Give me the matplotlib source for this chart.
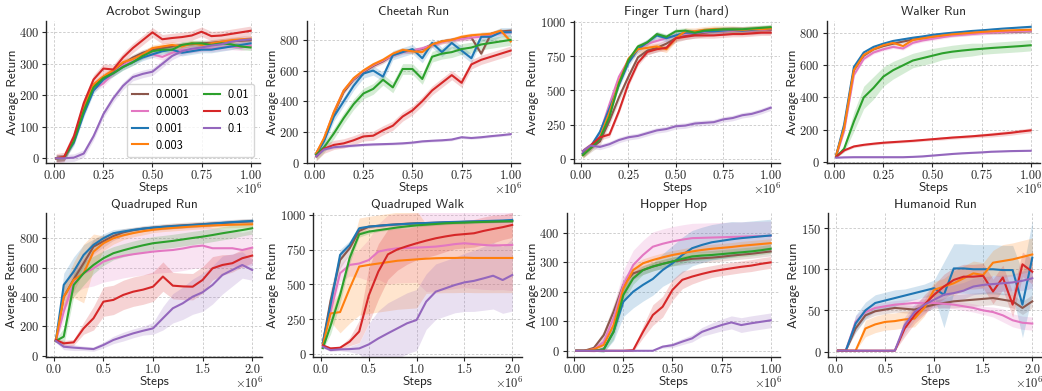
import matplotlib.pyplot as plt
import numpy as np

plt.rcParams['font.family'] = ['cmss10', 'DejaVu Sans']
plt.rcParams['mathtext.fontset'] = 'cm'
plt.rcParams['axes.formatter.use_mathtext'] = True
plt.rcParams['axes.unicode_minus'] = False

learning_rates = ['0.0001', '0.0003', '0.001', '0.003', '0.01', '0.03', '0.1']
colors = ['#8c564b', '#e377c2', '#1f77b4', '#ff7f0e', '#2ca02c', '#d62728', '#9467bd']

# steps in millions
steps_1m = [0.01, 0.05, 0.10, 0.15, 0.20, 0.25, 0.30, 0.35, 0.40, 0.45, 0.50,
            0.55, 0.60, 0.65, 0.70, 0.75, 0.80, 0.85, 0.90, 0.95, 1.00]
steps_2m = [0.02, 0.1, 0.2, 0.3, 0.4, 0.5, 0.6, 0.7, 0.8, 0.9, 1.0,
            1.1, 1.2, 1.3, 1.4, 1.5, 1.6, 1.7, 1.8, 1.9, 2.0]

# mean curves, one list per learning rate (same order as learning_rates)
acrobot_mean = [
    [0, 2, 60, 160, 230, 258, 275, 300, 320, 335, 345, 350, 355, 360, 362, 365, 367, 370, 372, 373, 375],
    [0, 2, 55, 150, 220, 238, 270, 295, 315, 325, 330, 322, 335, 345, 345, 350, 348, 352, 355, 352, 358],
    [0, 2, 50, 140, 215, 250, 270, 290, 305, 320, 330, 340, 345, 335, 340, 345, 345, 350, 355, 360, 365],
    [0, 3, 60, 165, 235, 260, 280, 305, 315, 330, 350, 355, 360, 355, 365, 360, 365, 370, 375, 378, 380],
    [0, 2, 55, 150, 225, 255, 270, 290, 305, 325, 340, 345, 345, 360, 365, 365, 360, 365, 362, 355, 352],
    [0, 4, 70, 175, 250, 285, 282, 320, 350, 375, 400, 378, 382, 385, 390, 402, 388, 390, 395, 400, 405],
    [0, 0, 2, 15, 70, 140, 190, 230, 258, 268, 275, 300, 325, 340, 348, 352, 358, 362, 370, 375, 378],
]
acrobot_band = [10, 10, 10, 10, 10, 15, 12]

cheetah_mean = [
    [60, 150, 320, 460, 540, 590, 630, 660, 700, 725, 730, 740, 770, 790, 800, 810, 815, 710, 840, 855, 860],
    [55, 155, 330, 470, 545, 595, 635, 665, 700, 720, 730, 745, 765, 785, 800, 805, 815, 820, 835, 845, 850],
    [55, 140, 300, 400, 500, 580, 600, 560, 700, 720, 740, 680, 780, 720, 780, 730, 680, 820, 820, 850, 850],
    [60, 160, 330, 470, 550, 600, 640, 670, 710, 735, 725, 720, 770, 790, 800, 820, 830, 835, 840, 860, 790],
    [50, 100, 190, 290, 380, 450, 480, 540, 490, 610, 610, 545, 690, 710, 720, 740, 750, 770, 780, 790, 800],
    [40, 90, 115, 125, 145, 170, 175, 210, 240, 300, 340, 400, 470, 520, 570, 520, 640, 670, 690, 710, 730],
    [40, 85, 100, 105, 110, 115, 118, 120, 122, 125, 130, 138, 142, 145, 150, 165, 160, 165, 172, 178, 185],
]
cheetah_band = [15, 15, 30, 15, 35, 30, 8]

finger_mean = [
    [40, 80, 130, 280, 450, 600, 740, 790, 810, 840, 880, 900, 910, 920, 930, 930, 935, 935, 935, 940, 940],
    [50, 90, 190, 400, 600, 720, 800, 840, 860, 880, 900, 910, 920, 925, 930, 930, 935, 935, 935, 940, 945],
    [40, 90, 200, 370, 540, 700, 800, 850, 900, 880, 900, 920, 920, 930, 930, 935, 940, 935, 940, 945, 950],
    [30, 85, 160, 340, 560, 730, 800, 810, 820, 800, 880, 930, 930, 940, 945, 945, 945, 940, 945, 945, 950],
    [30, 80, 150, 310, 550, 720, 820, 850, 910, 890, 930, 935, 920, 935, 940, 945, 945, 945, 950, 955, 960],
    [60, 100, 160, 180, 350, 550, 700, 780, 800, 810, 880, 890, 900, 900, 900, 905, 910, 910, 915, 920, 920],
    [60, 100, 90, 110, 140, 160, 170, 190, 210, 220, 240, 245, 260, 265, 270, 290, 300, 320, 330, 350, 375],
]
finger_band = [30, 25, 25, 25, 20, 20, 20]

walker_mean = [
    [40, 210, 570, 660, 700, 720, 735, 748, 760, 770, 778, 785, 790, 795, 800, 803, 805, 806, 808, 810, 812],
    [35, 190, 540, 640, 680, 700, 715, 705, 740, 755, 765, 775, 785, 790, 795, 800, 805, 808, 810, 813, 815],
    [40, 230, 590, 680, 715, 735, 752, 762, 772, 780, 790, 797, 803, 808, 814, 818, 823, 828, 832, 836, 840],
    [40, 210, 570, 665, 700, 725, 740, 720, 758, 768, 778, 786, 793, 798, 803, 808, 812, 815, 818, 820, 822],
    [30, 80, 250, 400, 460, 530, 570, 600, 630, 645, 660, 675, 685, 692, 698, 703, 708, 712, 716, 720, 725],
    [30, 70, 95, 105, 112, 118, 122, 126, 130, 135, 140, 145, 150, 154, 158, 163, 168, 174, 180, 188, 195],
    [25, 27, 28, 28, 28, 28, 28, 28, 30, 33, 38, 43, 48, 52, 55, 58, 62, 64, 66, 67, 68],
]
walker_band = [12, 10, 8, 8,
               [5, 20, 60, 70, 70, 60, 55, 50, 45, 45, 45, 40, 40, 40, 40, 35, 35, 35, 35, 35, 35],
               [5, 8, 8, 8, 8, 8, 8, 8, 8, 8, 8, 10, 10, 10, 10, 12, 14, 15, 15, 15, 15],
               4]

qrun_mean = [
    [100, 400, 520, 630, 743, 780, 815, 840, 855, 865, 872, 878, 884, 888, 892, 896, 900, 904, 908, 912, 915],
    [100, 300, 505, 561, 595, 641, 664, 680, 691, 700, 709, 715, 720, 730, 743, 750, 732, 732, 732, 720, 736],
    [100, 482, 573, 686, 755, 800, 834, 846, 857, 866, 873, 878, 882, 886, 890, 895, 900, 905, 910, 914, 918],
    [100, 400, 516, 560, 709, 766, 800, 820, 835, 848, 858, 865, 870, 875, 880, 884, 887, 890, 892, 894, 895],
    [100, 130, 482, 561, 618, 664, 698, 718, 736, 752, 766, 774, 782, 792, 802, 811, 822, 834, 845, 856, 868],
    [107, 84, 91, 186, 255, 368, 380, 414, 436, 450, 470, 539, 477, 472, 470, 516, 595, 618, 630, 664, 682],
    [100, 61, 55, 50, 45, 73, 107, 130, 152, 170, 186, 255, 323, 357, 402, 432, 482, 550, 584, 618, 584],
]
qrun_band = [
    [10, 80, 80, 60, 50, 40, 30, 25, 20, 20, 20, 20, 20, 20, 20, 20, 20, 20, 20, 20, 20],
    [10, 60, 80, 100, 120, 140, 150, 150, 150, 150, 150, 150, 150, 150, 150, 150, 140, 130, 120, 120, 120],
    [10, 80, 100, 70, 40, 30, 25, 20, 15, 15, 15, 15, 15, 15, 15, 15, 15, 15, 15, 15, 15],
    [10, 80, 120, 200, 120, 50, 40, 30, 25, 25, 20, 20, 20, 20, 20, 20, 20, 20, 20, 20, 20],
    [10, 60, 80, 80, 60, 50, 45, 45, 45, 45, 45, 45, 45, 45, 45, 45, 45, 45, 45, 40, 40],
    [10, 20, 20, 40, 80, 100, 100, 100, 100, 100, 100, 100, 90, 90, 90, 90, 80, 70, 60, 60, 50],
    [10, 20, 20, 15, 15, 20, 25, 30, 30, 30, 40, 80, 100, 110, 120, 130, 130, 130, 110, 90, 70],
]

qwalk_mean = [
    [80, 380, 675, 760, 885, 915, 922, 928, 933, 937, 940, 942, 944, 946, 948, 950, 951, 952, 953, 954, 955],
    [80, 300, 580, 640, 650, 675, 736, 750, 760, 762, 765, 768, 772, 780, 790, 796, 790, 784, 780, 782, 784],
    [80, 351, 712, 784, 904, 916, 922, 928, 932, 936, 940, 942, 945, 948, 950, 952, 954, 956, 958, 960, 964],
    [60, 290, 300, 470, 628, 640, 650, 660, 670, 675, 680, 685, 688, 690, 690, 692, 690, 690, 690, 690, 690],
    [40, 200, 423, 690, 860, 880, 890, 900, 910, 918, 925, 930, 935, 940, 943, 945, 948, 950, 952, 954, 955],
    [60, 38, 43, 87, 160, 420, 592, 716, 752, 775, 796, 815, 832, 845, 856, 862, 868, 885, 899, 912, 928],
    [50, 26, 31, 33, 38, 67, 110, 147, 183, 219, 243, 375, 447, 471, 495, 514, 525, 543, 562, 531, 567],
]
qwalk_band = [
    [10, 80, 60, 40, 20, 15, 10, 10, 10, 10, 10, 10, 10, 10, 10, 10, 10, 10, 10, 10, 10],
    [10, 50, 60, 80, 100, 150, 200, 250, 250, 250, 250, 320, 320, 320, 320, 320, 320, 320, 320, 320, 330],
    [10, 60, 40, 30, 15, 10, 10, 10, 10, 10, 10, 10, 10, 10, 10, 10, 10, 10, 10, 10, 10],
    [20, 60, 150, 250, 350, 350, 350, 350, 350, 350, 350, 250, 250, 250, 250, 250, 250, 250, 250, 250, 250],
    [10, 60, 60, 40, 20, 15, 10, 10, 10, 10, 10, 10, 10, 10, 10, 10, 10, 10, 10, 10, 10],
    [10, 10, 10, 30, 80, 200, 200, 180, 150, 130, 120, 120, 120, 110, 100, 100, 100, 100, 100, 90, 90],
    [10, 10, 10, 20, 40, 150, 200, 220, 220, 220, 220, 200, 200, 200, 200, 210, 220, 230, 240, 240, 260],
]

hopper_mean = [
    [0, 0, 10, 53, 132, 223, 262, 273, 285, 294, 302, 306, 311, 313, 315, 318, 322, 325, 328, 332, 336],
    [0, 0, 5, 30, 110, 223, 290, 324, 352, 362, 370, 376, 381, 382, 383, 384, 385, 386, 387, 388, 389],
    [0, 0, 0, 5, 64, 166, 200, 223, 243, 273, 296, 324, 347, 358, 367, 372, 377, 381, 384, 387, 390],
    [0, 0, 5, 20, 87, 211, 273, 296, 307, 316, 324, 330, 336, 341, 345, 348, 351, 355, 358, 361, 364],
    [0, 0, 0, 5, 64, 189, 245, 273, 285, 294, 302, 311, 319, 322, 324, 327, 330, 333, 336, 340, 345],
    [0, 0, 0, 0, 0, 0, 2, 64, 121, 149, 206, 240, 251, 260, 268, 274, 279, 284, 288, 294, 299],
    [0, 0, 0, 0, 0, 0, 0, 0, 0, 14, 19, 31, 42, 64, 76, 87, 96, 87, 93, 98, 103],
]
hopper_band = [
    [1, 1, 5, 15, 25, 25, 20, 15, 15, 15, 15, 15, 15, 15, 15, 15, 15, 15, 15, 15, 15],
    [1, 1, 10, 20, 40, 50, 50, 50, 50, 50, 50, 50, 50, 50, 50, 50, 50, 50, 50, 50, 50],
    [1, 1, 1, 10, 30, 50, 55, 55, 55, 55, 60, 60, 60, 60, 60, 60, 60, 55, 55, 55, 55],
    [1, 1, 5, 10, 20, 20, 20, 15, 15, 15, 15, 15, 15, 15, 15, 15, 15, 15, 15, 15, 15],
    [1, 1, 1, 10, 25, 25, 20, 15, 15, 15, 15, 15, 15, 15, 15, 15, 15, 15, 15, 15, 15],
    [0, 0, 0, 0, 0, 0, 5, 20, 35, 35, 35, 30, 25, 22, 20, 20, 20, 20, 20, 20, 20],
    [0, 0, 0, 0, 0, 0, 0, 0, 0, 5, 8, 10, 12, 15, 18, 20, 22, 25, 25, 25, 25],
]

humanoid_mean = [
    [1, 1, 28, 44, 49, 51, 53, 52, 51, 54, 57, 59, 61, 62, 63, 64, 65, 63, 61, 53, 61],
    [1, 1, 36, 48, 53, 55, 57, 58, 59, 59, 59, 58, 57, 55, 53, 50, 48, 44, 38, 35, 34],
    [1, 1, 34, 50, 59, 62, 65, 68, 71, 74, 77, 69, 101, 101, 100, 100, 100, 99, 99, 57, 114],
    [1, 1, 1, 28, 33, 36, 37, 39, 40, 53, 75, 79, 83, 89, 95, 93, 108, 110, 112, 115, 118],
    None,
    [1, 1, 1, 1, 1, 1, 1, 28, 44, 57, 69, 79, 87, 91, 91, 92, 73, 90, 57, 106, 97],
    [1, 1, 1, 1, 1, 1, 1, 32, 48, 57, 63, 69, 71, 74, 79, 81, 82, 83, 84, 86, 89],
]
humanoid_band = [
    [0, 0, 5, 5, 5, 5, 5, 5, 5, 5, 5, 6, 8, 8, 8, 8, 8, 8, 8, 8, 8],
    [0, 0, 8, 5, 5, 5, 5, 5, 5, 5, 5, 5, 5, 5, 5, 5, 6, 8, 8, 8, 8],
    [0, 0, 10, 10, 10, 10, 10, 8, 8, 8, 10, 40, 30, 30, 30, 30, 30, 30, 30, 40, 45],
    [0, 0, 0, 10, 10, 10, 10, 10, 10, 10, 10, 10, 15, 15, 15, 15, 15, 20, 20, 20, 20],
    None,
    [0, 0, 0, 0, 0, 0, 0, 10, 10, 12, 12, 15, 15, 15, 15, 15, 15, 15, 15, 15, 15],
    [0, 0, 0, 0, 0, 0, 0, 10, 10, 10, 10, 10, 10, 10, 10, 10, 10, 10, 10, 12, 12],
]

panels = [
    ('Acrobot Swingup', steps_1m, acrobot_mean, acrobot_band, (-16, 437), [0, 100, 200, 300, 400]),
    ('Cheetah Run', steps_1m, cheetah_mean, cheetah_band, (-5, 925), [0, 200, 400, 600, 800]),
    ('Finger Turn (hard)', steps_1m, finger_mean, finger_band, (-29, 1007), [0, 250, 500, 750, 1000]),
    ('Walker Run', steps_1m, walker_mean, walker_band, (-10, 878), [0, 200, 400, 600, 800]),
    ('Quadruped Run', steps_2m, qrun_mean, qrun_band, (-11, 970), [0, 200, 400, 600, 800]),
    ('Quadruped Walk', steps_2m, qwalk_mean, qwalk_band, (-26, 1012), [0, 250, 500, 750, 1000]),
    ('Hopper Hop', steps_1m, hopper_mean, hopper_band, (-22, 465), [0, 100, 200, 300, 400]),
    ('Humanoid Run', steps_2m, humanoid_mean, humanoid_band, (-7, 168), [0, 50, 100, 150]),
]

# axes rectangles in pixels: left, width (row decides bottom/height)
W, H = 1042, 391
rects = [(46.5, 213.9), (306.5, 213.9), (573.5, 206.6), (826.5, 213.9),
         (46, 216), (313.4, 208.3), (566.5, 213.9), (828.2, 213.8)]
rows = [(163.3, 142.6), (357.3, 144.0)]

fig = plt.figure(figsize=(W / 100, H / 100), dpi=100)
ink = '#262626'

for i, (title, steps, means, bands, ylim, yticks) in enumerate(panels):
    left, width = rects[i]
    bottom, height = rows[i // 4]
    ax = fig.add_axes([left / W, (H - bottom) / H, width / W, height / H])
    x = np.array(steps)
    for k, lr in enumerate(learning_rates):
        if means[k] is None:
            continue
        m = np.array(means[k], dtype=float)
        b = np.broadcast_to(np.array(bands[k], dtype=float), m.shape)
        ax.fill_between(x, m - b, m + b, color=colors[k], alpha=0.2, lw=0)
        ax.plot(x, m, color=colors[k], lw=1.5, label=lr)

    span = x[-1] - x[0]
    ax.set_xlim(x[0] - 0.05 * span, x[-1] + 0.05 * span)
    ax.set_xticks(np.linspace(0, x[-1], 5))
    ax.xaxis.set_major_formatter('{x:.2f}' if x[-1] < 1.5 else '{x:.1f}')
    ax.set_ylim(*ylim)
    ax.set_yticks(yticks)
    ax.grid(True, color='#c8c8c8', ls=(0, (3, 2)), lw=0.6)
    ax.set_axisbelow(True)
    for side in ['top', 'right']:
        ax.spines[side].set_visible(False)
    for side in ['left', 'bottom']:
        ax.spines[side].set_color(ink)
        ax.spines[side].set_linewidth(1.0)
    ax.tick_params(length=3, width=0.8, color=ink, labelcolor=ink,
                   labelsize=9, labelfontfamily='cmr10', pad=2)
    ax.annotate(r'$\times10^{6}$', xy=(1, 0), xycoords='axes fraction',
                xytext=(2, -26), textcoords='offset pixels', ha='right',
                va='center', fontsize=9, color=ink)
    ax.set_title(title, fontsize=9.5, color=ink, pad=4)
    ax.set_xlabel('Steps', fontsize=9.5, color=ink, labelpad=0)
    ax.set_ylabel('Average Return', fontsize=9.5, color=ink, labelpad=0.5)

    if i == 0:
        ax.legend(ncol=2, loc='lower right', fontsize=8.8, handlelength=1.3,
                  handletextpad=0.6, columnspacing=1.2, labelspacing=0.4,
                  borderpad=0.45, framealpha=0.8, edgecolor='#cccccc')

fig.savefig('out.png', dpi=100)
